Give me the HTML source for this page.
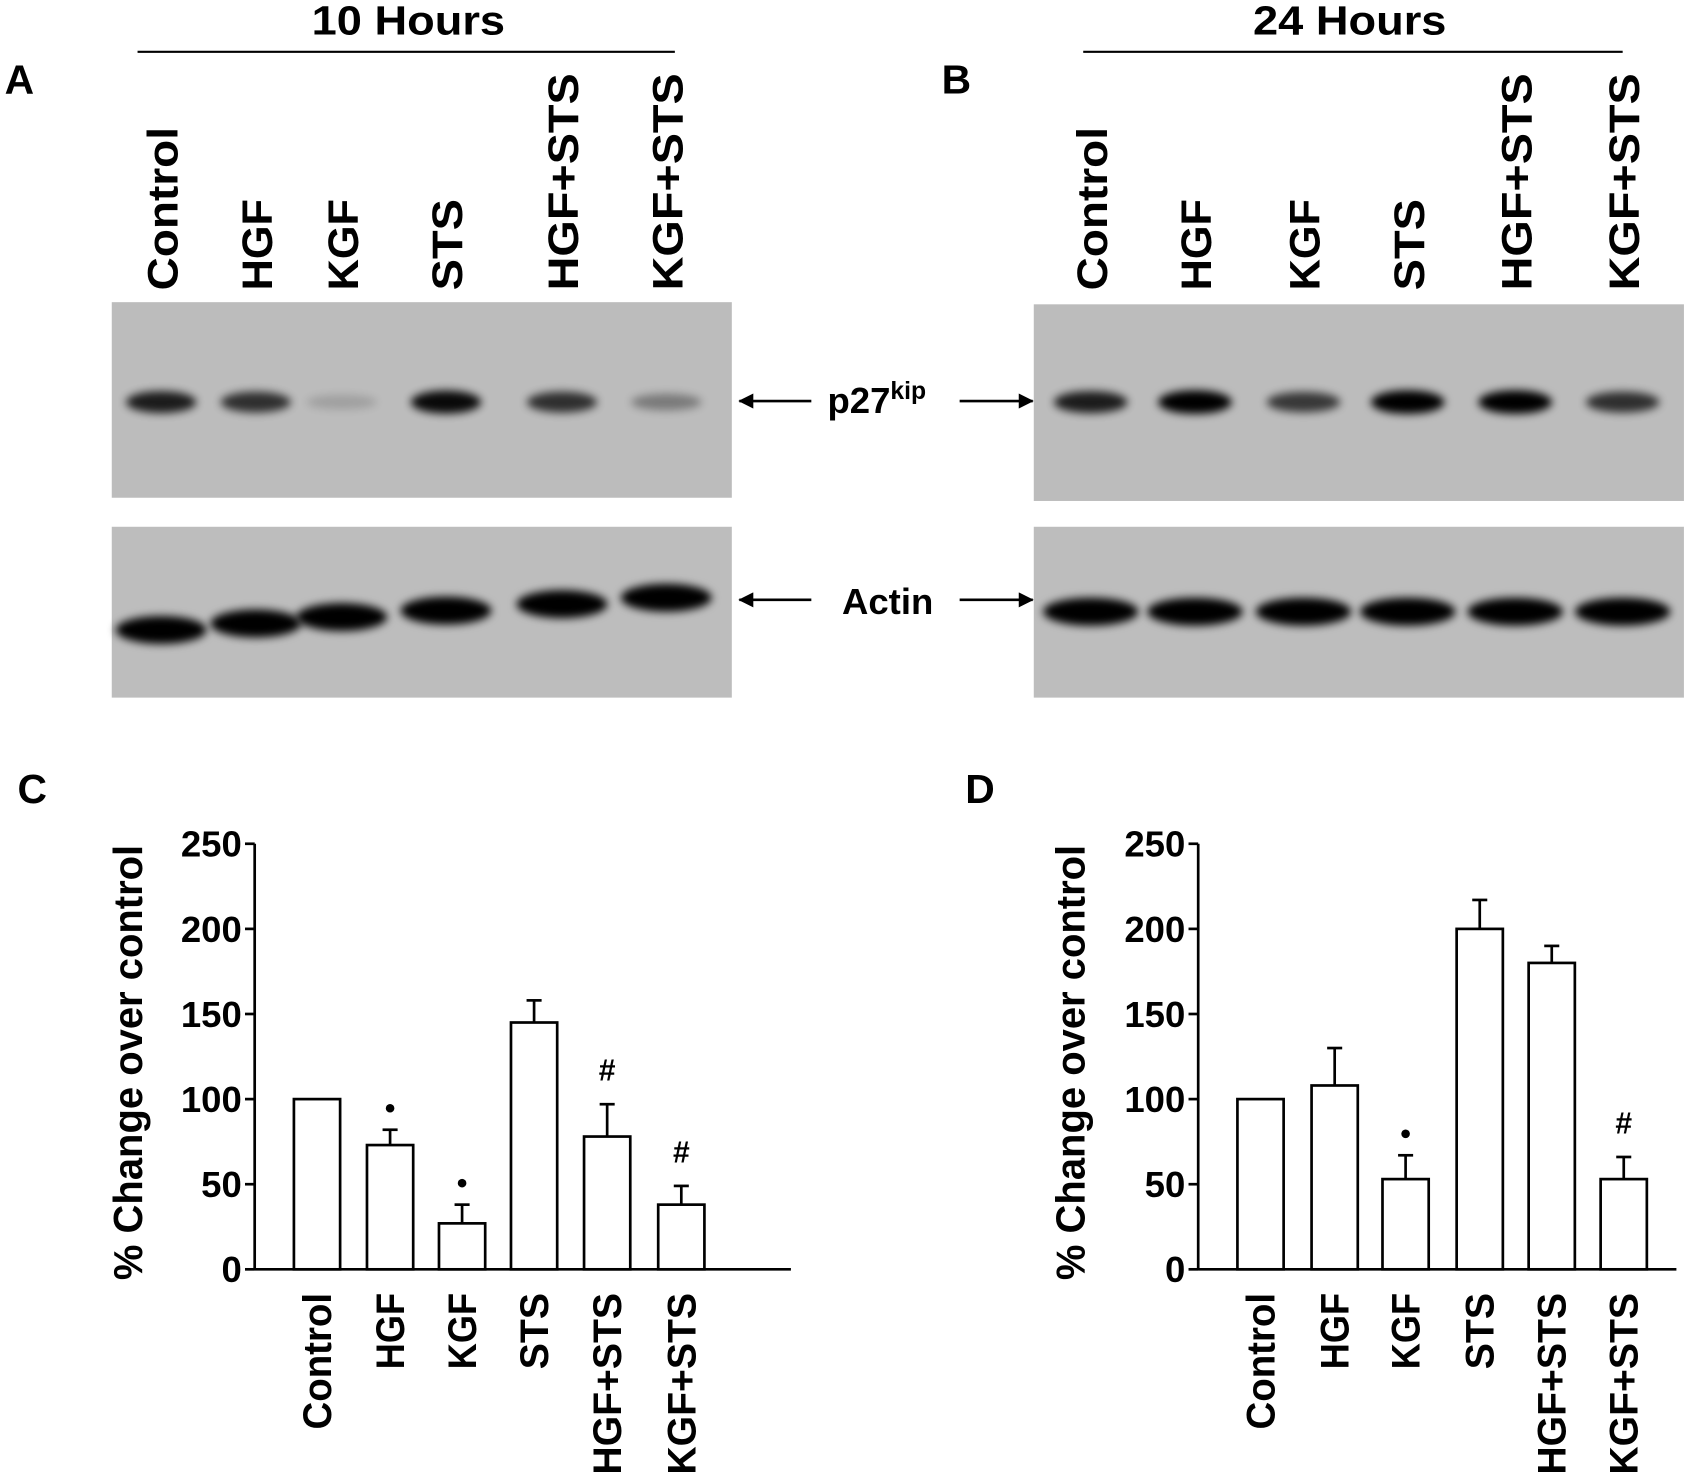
<!DOCTYPE html>
<html><head><meta charset="utf-8"><style>
html,body{margin:0;padding:0;background:#fff;}
svg{display:block;}
text{font-family:"Liberation Sans Narrow","Liberation Sans",sans-serif;font-weight:bold;fill:#000;}
</style></head><body>
<svg id="fig" width="1685" height="1478" viewBox="0 0 1568 1375" xmlns="http://www.w3.org/2000/svg">
<defs>
<filter id="blur" x="-50%" y="-100%" width="200%" height="300%"><feGaussianBlur stdDeviation="4"/></filter>
<marker id="ah" markerWidth="14" markerHeight="14" refX="13" refY="7" orient="auto" markerUnits="userSpaceOnUse" viewBox="0 0 14 14"><path d="M0,0 L14,7 L0,14 Z" fill="#000"/></marker>
</defs>
<g id="blots"></g>
<g id="charts"></g>
</svg>
<script>
const NS='http://www.w3.org/2000/svg';
const categories=['Control','HGF','KGF','STS','HGF+STS','KGF+STS'];
const valuesC=[100,73,27,145,78,38];
const errorsC=[0,9,11,13,19,11];
const marksC=['','*','*','','#','#'];
const valuesD=[100,108,53,200,180,53];
const errorsD=[0,22,14,17,10,13];
const marksD=['','','*','','','#'];
const yTicks=[0,50,100,150,200,250];
const bandsA=[0.85,0.75,0.15,0.95,0.75,0.35];
const bandsB=[0.85,1,0.7,1,1,0.75];

function el(tag,attrs,parent,txt){const e=document.createElementNS(NS,tag);for(const k in attrs)e.setAttribute(k,attrs[k]);if(txt!==undefined)e.textContent=txt;parent.appendChild(e);return e;}
const blots=document.getElementById('blots');
const charts=document.getElementById('charts');
const lenFactor={'Control':1,'HGF':0.56,'KGF':0.56,'STS':0.56,'HGF+STS':1.33,'KGF+STS':1.33};

function txt(parent,x,y,s,size,name,anchor,rot,len){
  const t=el('text',{x:x,y:y,'font-size':size,'text-anchor':anchor||'middle'},parent,s);
  if(len){t.setAttribute('textLength',len);t.setAttribute('lengthAdjust','spacingAndGlyphs');}
  if(rot)t.setAttribute('transform','rotate(-90 '+x+' '+y+')');
  
  
  return t;
}

txt(blots,18,87,'A',38,'panel-label-a','middle');
txt(blots,890,87,'B',38,'panel-label-b','middle');
txt(blots,30,747,'C',38,'panel-label-c','middle');
txt(blots,912,747,'D',38,'panel-label-d','middle');
txt(blots,380,32,'10 Hours',38,'header-10-hours','middle',false,180);
txt(blots,1256,32,'24 Hours',38,'header-24-hours','middle',false,180);
el('line',{x1:128,y1:48,x2:628,y2:48,stroke:'#000','stroke-width':2},blots);
el('line',{x1:1008,y1:48,x2:1510,y2:48,stroke:'#000','stroke-width':2},blots);

function blotPanel(x0,x1,lanes,bands,actinY,panel){
  lanes.forEach((cx,i)=>{
    txt(blots,cx+15,270,categories[i],40,'lane-label-'+panel+'-'+i,'start',true,Math.round(152*lenFactor[categories[i]]));
  });
  const p=el('rect',{x:x0,y:panel==='a'?281:283,width:x1-x0,height:panel==='a'?182:183,fill:'#bcbcbc'},blots);
  
  
  const a=el('rect',{x:x0,y:490,width:x1-x0,height:159,fill:'#bdbdbd'},blots);
  
  
  const w=(x1-x0)/lanes.length;
  lanes.forEach((cx,i)=>{
    const b=el('ellipse',{cx:cx,cy:374,rx:w*0.34,ry:6+bands[i]*5,fill:'#000',opacity:bands[i],filter:'url(#blur)'},blots);
    
    
    const c=el('ellipse',{cx:cx,cy:actinY(i),rx:w*0.44,ry:13,fill:'#000',filter:'url(#blur)'},blots);
    
    
  });
}
blotPanel(104,681,[150,238,318,415,523,620],bandsA,i=>586-i*6,'a');
blotPanel(962,1567,[1015,1112,1213,1310,1410,1510],bandsB,i=>569,'b');

[[373,'p27'],[558,'actin']].forEach(([y,n])=>{
  el('line',{x1:755,y1:y,x2:688,y2:y,stroke:'#000','stroke-width':2.5,'marker-end':'url(#ah)'},blots);
  el('line',{x1:893,y1:y,x2:961,y2:y,stroke:'#000','stroke-width':2.5,'marker-end':'url(#ah)'},blots);
});
const pl=txt(blots,770,384,'p27',34,'p27-label','start');
el('tspan',{'font-size':23,dy:-13},pl,'kip');
txt(blots,826,571,'Actin',34,'actin-label');

function barChart(axX,axEnd,centers,vals,errs,marks,panel,titleX){
  const y0=1181,yTop=785;
  const y=v=>y0-(v/250)*(y0-yTop);
  const g=el('g',{},charts);
  
  
  el('line',{x1:axX,y1:yTop,x2:axX,y2:y0+1,stroke:'#000','stroke-width':2.5},g);
  el('line',{x1:axX,y1:y0,x2:axEnd,y2:y0,stroke:'#000','stroke-width':2.5},g);
  yTicks.forEach(t=>{
    el('line',{x1:axX-9,y1:y(t),x2:axX,y2:y(t),stroke:'#000','stroke-width':2.5},g);
    txt(g,axX-12,y(t)+12,String(t),34,'y-tick-'+panel+'-'+t,'end');
  });
  txt(g,titleX,y0+10,'% Change over control',38,'y-axis-title-'+panel,'start',true,405);
  centers.forEach((cx,i)=>{
    const bw=43;
    const r=el('rect',{x:cx-bw/2,y:y(vals[i]),width:bw,height:y0-y(vals[i]),fill:'#fff',stroke:'#000','stroke-width':2.5},g);
    
    
    if(errs[i]>0){
      el('line',{x1:cx,y1:y(vals[i]),x2:cx,y2:y(vals[i]+errs[i]),stroke:'#000','stroke-width':2.5},g);
      el('line',{x1:cx-7,y1:y(vals[i]+errs[i]),x2:cx+7,y2:y(vals[i]+errs[i]),stroke:'#000','stroke-width':2.5},g);
    }
    if(marks[i]){
      const top=y(vals[i]+errs[i]);
      if(marks[i]==='*'){
        const m=el('circle',{cx:cx,cy:top-20,r:4,fill:'#000'},g);
        
        
      } else {
        txt(g,cx,top-22,'#',28,'significance-'+panel+'-'+i);
      }
    }
    txt(g,cx+13,1203,categories[i],37,'x-label-'+panel+'-'+i,'end',true,Math.round(127*lenFactor[categories[i]]));
  });
}
barChart(237,736,[295,363,430,497,565,634],valuesC,errorsC,marksC,'c',132);
barChart(1115,1560,[1173,1242,1308,1377,1444,1511],valuesD,errorsD,marksD,'d',1009);
</script>
</body></html>
